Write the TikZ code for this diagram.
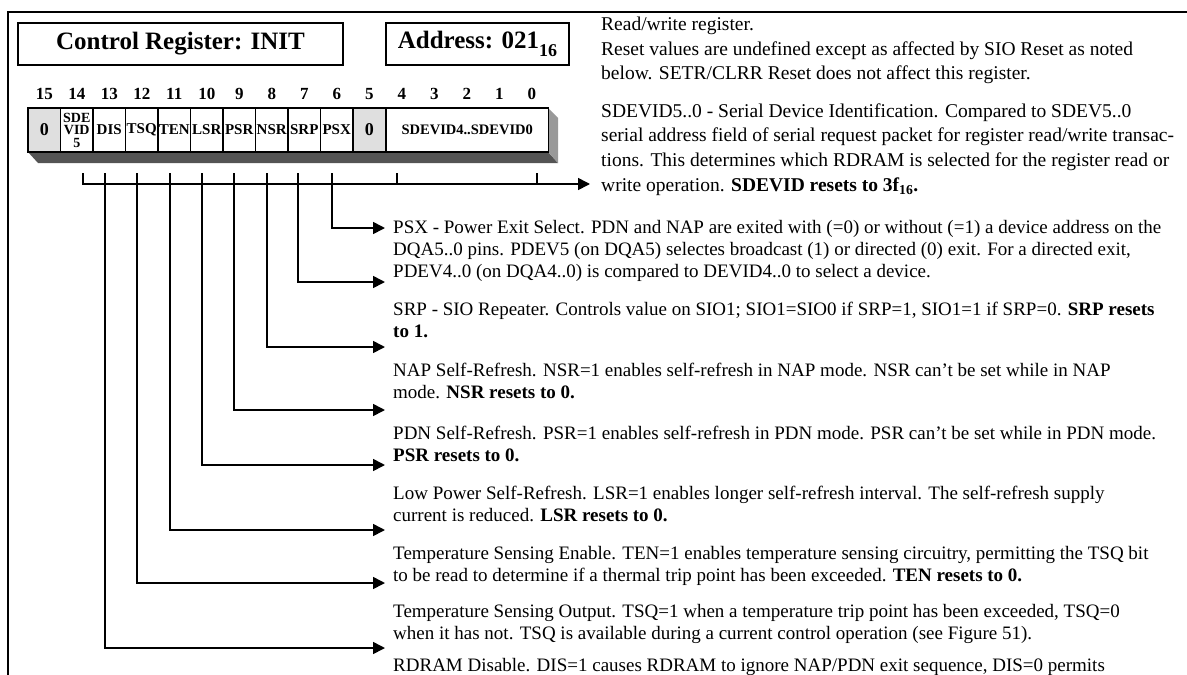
\documentclass[tikz,border=0pt]{standalone}
\usepackage{fontspec}
\setmainfont{Liberation Serif}
\usetikzlibrary{arrows.meta}
\newcommand\fsz[2]{\fontsize{#1}{#2}\selectfont}
\begin{document}
\begin{tikzpicture}[x=1pt,y=-1pt,
  frameline/.style={line width=1.8pt},
  headbox/.style={draw, line width=1.8pt, inner sep=0pt, minimum height=42pt, font=\bfseries\fsz{25}{30}},
  bitnum/.style={inner sep=0pt, font=\bfseries\fsz{17}{20}},
  cell/.style={draw, line width=1.6pt, minimum height=44pt, minimum width=32.5pt, inner sep=0pt, font=\bfseries\fsz{15}{16}},
  zerocell/.style={cell, fill=gray!25, font=\bfseries\fsz{18}{20}},
  conn/.style={line width=1.6pt},
  arr/.style={conn, -{Triangle[length=12pt,width=12pt]}},
  updesc/.style={anchor=north west, align=left, inner sep=0pt, font=\fsz{19.5}{24.7}},
  lowdesc/.style={anchor=north west, align=left, inner sep=0pt, font=\fsz{19}{22}},
]
\useasboundingbox (0,0) rectangle (1187,675);
% frame
\draw[frameline] (8,680) -- (8,12) -- (1190,12);
% headings
\node[headbox, minimum width=325pt] (title) at (180.5,44) {Control Register: INIT};
\node[headbox, minimum width=183pt] (addr) at (477.5,44) {Address: 021\raisebox{-0.3em}{\fsz{18}{18}16}};
% shadow
\fill[black!67] (28,152) -- (548,152) -- (558,163) -- (38,163) -- cycle;
\fill[black!40] (548,108) -- (558,118) -- (558,163) -- (548,152) -- cycle;
% cells
\node[zerocell] (b15) at (44.25,130) {0};
\node[cell, font=\bfseries\fsz{14}{12.5}, align=center] (b14) at (76.75,130) {SDE\\VID\\5};
\node[cell] (b13) at (109.25,130) {DIS};
\node[cell] (b12) at (141.75,130) {TSQ};
\node[cell] (b11) at (174.25,130) {TEN};
\node[cell] (b10) at (206.75,130) {LSR};
\node[cell] (b9) at (239.25,130) {PSR};
\node[cell] (b8) at (271.75,130) {NSR};
\node[cell] (b7) at (304.25,130) {SRP};
\node[cell] (b6) at (336.75,130) {PSX};
\node[zerocell] (b5) at (369.25,130) {0};
\node[cell, minimum width=162.5pt, font=\bfseries\fsz{14.5}{16}] (b40) at (467.25,130) {SDEVID4..SDEVID0};
% bit numbers
\foreach \i in {0,...,15} {
  \node[bitnum] (n\i) at ({44.25+(15-\i)*32.5},94) {\i};
}
% tick coordinates
\coordinate (c14) at (83,173);
\coordinate (c13) at (105,173);
\coordinate (c12) at (137,173);
\coordinate (c11) at (170,173);
\coordinate (c10) at (202,173);
\coordinate (c9) at (234,173);
\coordinate (c8) at (267,173);
\coordinate (c7) at (298,173);
\coordinate (c6) at (332,173);
\coordinate (c4) at (397,173);
\coordinate (c0) at (537,173);
\coordinate (busend) at (590,184);
% arrow ends
\coordinate (aPSX) at (385,228);
\coordinate (aSRP) at (385,282);
\coordinate (aNSR) at (385,347);
\coordinate (aPSR) at (385,410);
\coordinate (aLSR) at (385,465);
\coordinate (aTEN) at (385,530);
\coordinate (aTSQ) at (385,583);
\coordinate (aDIS) at (385,648);
% bus
\draw[arr] (c14) |- (busend);
\foreach \c in {c13,c12,c11,c10,c9,c8,c7,c6,c4,c0} {
  \draw[conn] (\c) -- (\c |- busend);
}
\draw[arr] (c6) |- (aPSX);
\draw[arr] (c7) |- (aSRP);
\draw[arr] (c8) |- (aNSR);
\draw[arr] (c9) |- (aPSR);
\draw[arr] (c10) |- (aLSR);
\draw[arr] (c11) |- (aTEN);
\draw[arr] (c12) |- (aTSQ);
\draw[arr] (c13) |- (aDIS);
% upper descriptions
\node[updesc] (dA) at (601,13.1) {\strut Read/write register.\\Reset values are undefined except as affected by SIO Reset as noted\\below. SETR/CLRR Reset does not affect this register.};
\node[updesc] (dB) at (601,99.6) {\strut SDEVID5..0 - Serial Device Identification. Compared to SDEV5..0\\serial address field of serial request packet for register read/write transac-\\tions. This determines which RDRAM is selected for the register read or\\write operation. \textbf{SDEVID resets to 3f\textsubscript{16}.}};
% lower descriptions
\node[lowdesc] (dPSX) at (393,217.9) {\strut PSX - Power Exit Select. PDN and NAP are exited with (=0) or without (=1) a device address on the\\DQA5..0 pins. PDEV5 (on DQA5) selectes broadcast (1) or directed (0) exit. For a directed exit,\\PDEV4..0 (on DQA4..0) is compared to DEVID4..0 to select a device.};
\node[lowdesc] (dSRP) at (393,299.9) {\strut SRP - SIO Repeater. Controls value on SIO1; SIO1=SIO0 if SRP=1, SIO1=1 if SRP=0. \textbf{SRP resets}\\\textbf{to 1.}};
\node[lowdesc] (dNSR) at (393,360.9) {\strut NAP Self-Refresh. NSR=1 enables self-refresh in NAP mode. NSR can't be set while in NAP\\mode. \textbf{NSR resets to 0.}};
\node[lowdesc] (dPSR) at (393,423.9) {\strut PDN Self-Refresh. PSR=1 enables self-refresh in PDN mode. PSR can't be set while in PDN mode.\\\textbf{PSR resets to 0.}};
\node[lowdesc] (dLSR) at (393,483.9) {\strut Low Power Self-Refresh. LSR=1 enables longer self-refresh interval. The self-refresh supply\\current is reduced. \textbf{LSR resets to 0.}};
\node[lowdesc] (dTEN) at (393,543.9) {\strut Temperature Sensing Enable. TEN=1 enables temperature sensing circuitry, permitting the TSQ bit\\to be read to determine if a thermal trip point has been exceeded. \textbf{TEN resets to 0.}};
\node[lowdesc] (dTSQ) at (393,601.9) {\strut Temperature Sensing Output. TSQ=1 when a temperature trip point has been exceeded, TSQ=0\\when it has not. TSQ is available during a current control operation (see Figure 51).};
\node[lowdesc] (dDIS) at (393,655.9) {\strut RDRAM Disable. DIS=1 causes RDRAM to ignore NAP/PDN exit sequence, DIS=0 permits};
\end{tikzpicture}
\end{document}
